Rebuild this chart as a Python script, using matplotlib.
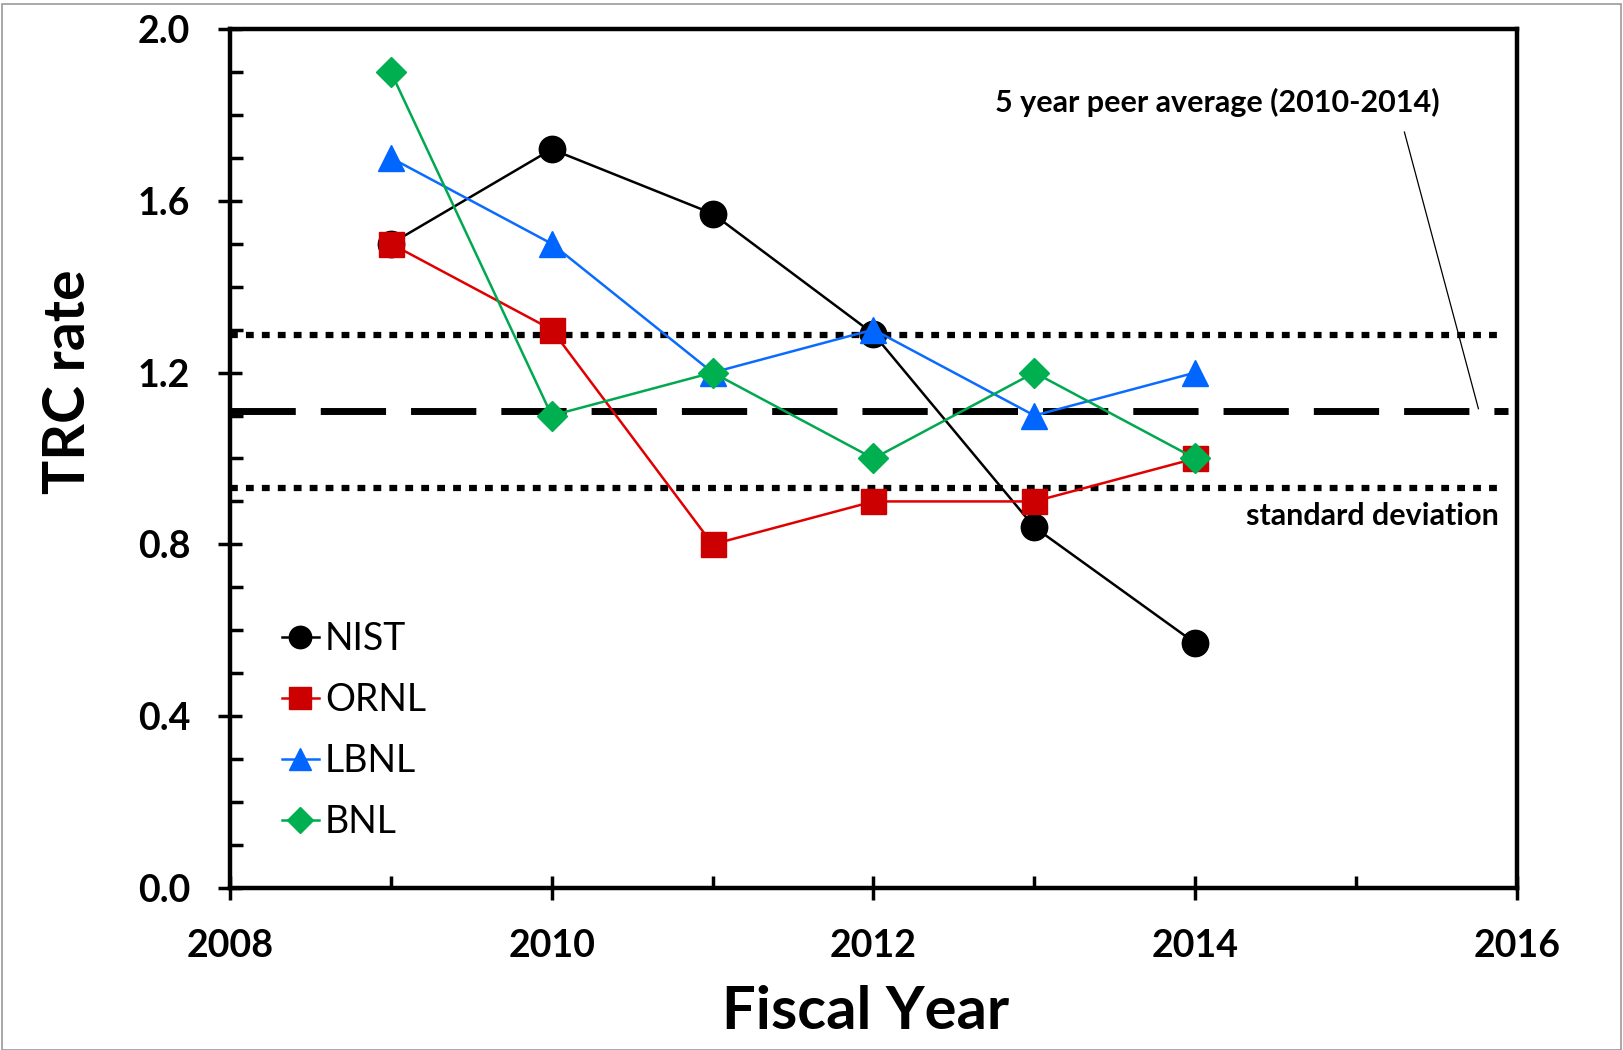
import numpy as np
import matplotlib.pyplot as plt
from matplotlib.ticker import MultipleLocator

# Data
years = [2009, 2010, 2011, 2012, 2013, 2014]
nist = [1.50, 1.72, 1.57, 1.29, 0.84, 0.57]
ornl = [1.50, 1.30, 0.80, 0.90, 0.90, 1.00]
lbnl = [1.70, 1.50, 1.20, 1.30, 1.10, 1.20]
bnl = [1.90, 1.10, 1.20, 1.00, 1.20, 1.00]

peer_mean = 1.11
peer_std = 0.178

plt.rcParams['font.family'] = ['Lato', 'DejaVu Sans']

fig = plt.figure(figsize=(16.23, 10.5), dpi=100)
ax = fig.add_axes([0.1417, 0.1543, 0.7930, 0.8181])

ax.plot(years, nist, color='black', lw=1.8, marker='o', ms=19, label='NIST')
ax.plot(years, ornl, color='#E00000', lw=1.8, marker='s', ms=18,
        mfc='#CC0000', mec='#CC0000', label='ORNL')
ax.plot(years, lbnl, color='#0A6CFF', lw=1.8, marker='^', ms=19,
        mfc='#0066FF', mec='#0066FF', label='LBNL')
ax.plot(years, bnl, color='#00A850', lw=1.8, marker='D', ms=15,
        mfc='#00B050', mec='#00B050', label='BNL')

# peer average and +/- std
ax.axhline(peer_mean, xmax=0.993, color='black', lw=5, dashes=(9.4, 3.6), zorder=1)
ax.axhline(peer_mean + peer_std, xmax=0.988, color='black', lw=4.5,
           dashes=(1.25, 1.3), zorder=1)
ax.axhline(peer_mean - peer_std, xmax=0.988, color='black', lw=4.5,
           dashes=(1.25, 1.3), zorder=1)

ax.text(2014.14, 1.829, '5 year peer average (2010-2014)', fontsize=22,
        fontweight='bold', ha='center', va='center')
ax.plot([2015.30, 2015.76], [1.76, 1.116], color='black', lw=0.9)
ax.text(2015.89, 0.865, 'standard deviation', fontsize=22,
        fontweight='bold', ha='right', va='center')

ax.set_xlim(2008, 2016)
ax.set_ylim(0, 2.0)
ax.xaxis.set_major_locator(MultipleLocator(2))
ax.xaxis.set_minor_locator(MultipleLocator(1))
ax.yaxis.set_major_locator(MultipleLocator(0.4))
ax.yaxis.set_minor_locator(MultipleLocator(0.1))
ax.set_yticks(np.arange(0, 2.01, 0.4))
ax.set_yticklabels(['0.0', '0.4', '0.8', '1.2', '1.6', '2.0'])

ax.tick_params(which='major', direction='inout', length=17, width=2.5,
               labelsize=27)
ax.tick_params(which='minor', direction='in', length=9, width=2.5)
ax.tick_params(axis='x', which='major', pad=21)
ax.tick_params(axis='y', which='major', pad=20)
for lab in ax.get_xticklabels() + ax.get_yticklabels():
    lab.set_fontweight('bold')

for s in ax.spines.values():
    s.set_linewidth(3.2)

ax.set_xlabel('Fiscal Year', fontsize=43, fontweight='bold', va='center')
ax.xaxis.set_label_coords(0.4936, -0.144)
ax.set_ylabel('TRC rate', fontsize=41, fontweight='bold')
ax.yaxis.set_label_coords(-0.105, 0.589)

ax.legend(loc='upper left', bbox_to_anchor=(0.014, 0.35), frameon=False,
          fontsize=27, handlelength=1.0, handletextpad=0.15, labelspacing=0.67,
          markerscale=0.85)

# thin gray frame around the picture
fig.patches.append(plt.Rectangle((0.001, 0.0), 0.998, 0.996, transform=fig.transFigure,
                                 fill=False, edgecolor='#999999', lw=1.2))

fig.savefig('out.png', dpi=100)
